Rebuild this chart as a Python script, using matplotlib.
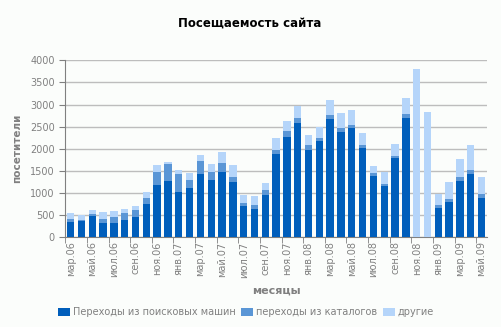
import matplotlib
matplotlib.use("Agg")
import matplotlib.pyplot as plt
import numpy as np

months = ["мар.06","апр.06","май.06","июн.06","июл.06","авг.06","сен.06","окт.06","ноя.06","дек.06",
          "янв.07","фев.07","мар.07","апр.07","май.07","июн.07","июл.07","авг.07","сен.07","окт.07",
          "ноя.07","дек.07","янв.08","фев.08","мар.08","апр.08","май.08","июн.08","июл.08","авг.08",
          "сен.08","окт.08","ноя.08","дек.08","янв.09","фев.09","мар.09","апр.09","май.09"]

search = [346, 369, 482, 324, 324, 392, 460, 753, 1183, 1273,
          1024, 1115, 1431, 1296, 1476, 1250, 708, 640, 957, 1883,
          2267, 2584, 1974, 2177, 2674, 2380, 2471, 2019, 1386, 1160,
          1793, 2697, 0, 0, 663, 798, 1273, 1431, 889]
catalogs = [68, 31, 45, 90, 136, 158, 158, 136, 293, 384,
            407, 181, 294, 180, 204, 113, 68, 91, 113, 91,
            136, 113, 113, 68, 91, 91, 68, 68, 68, 45,
            45, 90, 0, 0, 68, 68, 90, 91, 90]
other = [136, 97, 91, 158, 135, 90, 90, 135, 159, 45,
         91, 158, 136, 181, 248, 272, 181, 203, 158, 271,
         226, 271, 226, 248, 339, 339, 339, 271, 158, 271,
         271, 362, 3804, 2832, 248, 384, 407, 565, 384]

series_names = ["Переходы из поисковых машин", "переходы из каталогов", "другие"]
colors = ["#005EBB", "#5A96D6", "#B5D5FA"]

fig = plt.figure(figsize=(5.02, 3.27), dpi=100)
fig.patch.set_facecolor("#FBFDFB")
ax = fig.add_axes([0.130, 0.2743, 0.840, 0.5413])
ax.set_facecolor("#FBFDFB")

x = np.arange(len(months))
s = np.array(search); c = np.array(catalogs); o = np.array(other)
w = 0.68
ax.bar(x, s, w, color=colors[0], label=series_names[0], zorder=3)
ax.bar(x, c, w, bottom=s, color=colors[1], label=series_names[1], zorder=3)
ax.bar(x, o, w, bottom=s + c, color=colors[2], label=series_names[2], zorder=3)

ax.set_xlim(-0.5, len(months) - 0.5)
ax.set_ylim(0, 4000)
ax.set_yticks(np.arange(0, 4001, 500))
ax.yaxis.grid(True, color="#BDBDBD", linewidth=1, zorder=0)
ax.set_axisbelow(True)

ax.set_xticks(x[::2])
ax.set_xticklabels(months[::2], rotation=90, fontsize=7, color="#808080")
ax.tick_params(axis="x", length=0, pad=3)
ax.set_xticks(np.arange(-0.5, len(months), 2), minor=True)
ax.tick_params(axis="x", which="minor", length=4, color="#808080")
ax.tick_params(axis="y", labelsize=7, colors="#808080", length=4, color="#808080")

for sp in ["top", "right"]:
    ax.spines[sp].set_visible(False)
for sp in ["left", "bottom"]:
    ax.spines[sp].set_color("#808080")

ax.set_xlabel("месяцы", fontsize=8, fontweight="bold", color="#808080", labelpad=6)
ax.set_ylabel("посетители", fontsize=7.5, fontweight="bold", color="#808080", labelpad=6)
fig.text(0.498, 0.93, "Посещаемость сайта", ha="center", va="center", fontsize=8.5, fontweight="bold", color="black")

leg = fig.legend(loc="center", bbox_to_anchor=(0.49, 0.045), ncol=3, frameon=False,
                 fontsize=7, handlelength=1.2, handleheight=0.8, handletextpad=0.3, columnspacing=0.6)
for t in leg.get_texts():
    t.set_color("#808080")

fig.savefig("out.png", dpi=100, facecolor=fig.get_facecolor())
